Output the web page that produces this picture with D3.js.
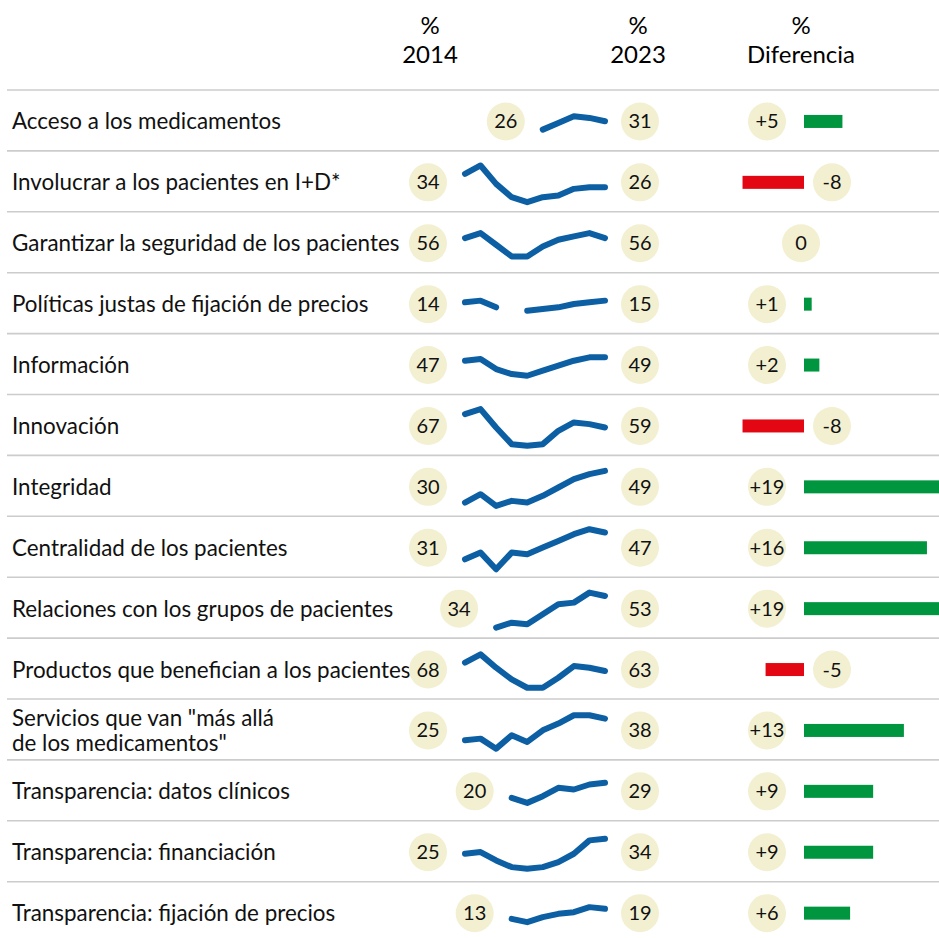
<!DOCTYPE html>
<html>
<head>
<meta charset="utf-8">
<script src="https://cdn.jsdelivr.net/npm/d3@7"></script>
<style>
  body { margin: 0; background: #fff; }
  svg { display: block; font-family: Lato, "Open Sans", sans-serif; }
</style>
</head>
<body>
<svg id="chart" width="939" height="938"></svg>
<script>
// datos
const labels = [
  "Acceso a los medicamentos",
  "Involucrar a los pacientes en I+D*",
  "Garantizar la seguridad de los pacientes",
  "Políticas justas de fijación de precios",
  "Información",
  "Innovación",
  "Integridad",
  "Centralidad de los pacientes",
  "Relaciones con los grupos de pacientes",
  "Productos que benefician a los pacientes",
  "Servicios que van \"más allá\nde los medicamentos\"",
  "Transparencia: datos clínicos",
  "Transparencia: financiación",
  "Transparencia: fijación de precios"
];
const years = [2014, 2015, 2016, 2017, 2018, 2019, 2020, 2021, 2022, 2023];
const v2014 = [26, 34, 56, 14, 47, 67, 30, 31, 34, 68, 25, 20, 25, 13];
const v2023 = [31, 26, 56, 15, 49, 59, 49, 47, 53, 63, 38, 29, 34, 19];
const diff  = [5, -8, 0, 1, 2, -8, 19, 16, 19, -5, 13, 9, 9, 6];
// serie anual (null = sin dato)
const series = [
  [null, null, null, null, null, 26, 30, 34, 33, 31],
  [34, 39, 28, 20, 17, 20, 21, 25, 26, 26],
  [56, 59, 52, 45, 45, 51, 55, 57, 59, 56],
  [14, 15, 11, null, 9, 10, 11, 13, 14, 15],
  [47, 48, 42, 39, 38, 41, 44, 47, 49, 49],
  [67, 70, 59, 49, 48, 49, 57, 62, 61, 59],
  [30, 35, 28, 31, 30, 34, 39, 44, 47, 49],
  [31, 35, 25, 35, 34, 38, 42, 46, 49, 47],
  [null, null, 34, 37, 36, 42, 48, 49, 55, 53],
  [68, 73, 65, 58, 53, 53, 59, 66, 65, 63],
  [25, 26, 20, 28, 24, 31, 35, 40, 40, 38],
  [null, null, null, 20, 17, 21, 26, 25, 28, 29],
  [25, 26, 21, 17, 16, 17, 20, 25, 33, 34],
  [null, null, null, 13, 11, 14, 16, 17, 20, 19]
];

const svg = d3.select("#chart");
const top0 = 90, rowH = 60.9;
const rowY = i => top0 + rowH * (i + 0.5) + 1;

const x = d3.scalePoint().domain(years).range([465, 605]);
const dy = d3.scaleLinear().domain([-10, 10]).range([16.7, -16.7]); // desviación respecto al centro
const bx = d3.scaleLinear().domain([0, 19]).range([804, 950]);

const cream = "#f2f0d1", blue = "#0d5fa4", green = "#00963f", red = "#e30613";

// cabecera
const head = [{t: "2014", x: 430}, {t: "2023", x: 638}, {t: "Diferencia", x: 801}];
head.forEach(h => {
  svg.append("text").attr("x", h.x).attr("y", 34).attr("text-anchor", "middle")
    .attr("font-size", 24).text("%");
  svg.append("text").attr("x", h.x).attr("y", 63).attr("text-anchor", "middle")
    .attr("font-size", 24).text(h.t);
});

// separadores
d3.range(14).forEach(i => {
  svg.append("line").attr("x1", 7).attr("x2", 939)
    .attr("y1", top0 + rowH * i).attr("y2", top0 + rowH * i)
    .attr("stroke", "#cccccc").attr("stroke-width", 1.6);
});

const line = d3.line()
  .defined(d => d.v != null)
  .x(d => x(d.year))
  .y(d => d.y);

labels.forEach((lab, i) => {
  const cy = rowY(i);
  const g = svg.append("g");

  // etiqueta
  const parts = lab.split("\n");
  const t = g.append("text").attr("x", 12).attr("font-size", 22.4).attr("fill", "#111");
  parts.forEach((p, j) => {
    t.append("tspan").attr("x", 12)
      .attr("y", cy + 8 + (j - (parts.length - 1) / 2) * 25.5).text(p);
  });

  // línea
  const vals = series[i];
  const ext = d3.extent(vals.filter(v => v != null));
  const mid = (ext[0] + ext[1]) / 2;
  const pts = years.map((yr, k) => ({year: yr, v: vals[k], y: vals[k] == null ? 0 : cy + 1.5 + dy(vals[k] - mid)}));
  g.append("path").datum(pts).attr("d", line)
    .attr("fill", "none").attr("stroke", blue).attr("stroke-width", 6)
    .attr("stroke-linecap", "round").attr("stroke-linejoin", "round");

  // círculo 2014 junto al primer dato
  const firstIdx = vals.findIndex(v => v != null);
  const c1 = x(years[firstIdx]) - 37;
  g.append("circle").attr("cx", c1).attr("cy", cy).attr("r", 19).attr("fill", cream);
  g.append("text").attr("x", c1).attr("y", cy + 7).attr("text-anchor", "middle")
    .attr("font-size", 20).attr("fill", "#111").text(v2014[i]);

  // círculo 2023
  g.append("circle").attr("cx", 640).attr("cy", cy).attr("r", 19).attr("fill", cream);
  g.append("text").attr("x", 640).attr("y", cy + 7).attr("text-anchor", "middle")
    .attr("font-size", 20).attr("fill", "#111").text(v2023[i]);

  // diferencia
  const d = diff[i];
  let cx;
  if (d > 0) {
    g.append("rect").attr("x", bx(0)).attr("y", cy - 6.5)
      .attr("width", bx(d) - bx(0)).attr("height", 13).attr("fill", green);
    cx = 767;
  } else if (d < 0) {
    g.append("rect").attr("x", bx(0) - (bx(-d) - bx(0))).attr("y", cy - 6.5)
      .attr("width", bx(-d) - bx(0)).attr("height", 13).attr("fill", red);
    cx = 832;
  } else {
    cx = 801;
  }
  g.append("circle").attr("cx", cx).attr("cy", cy).attr("r", 19).attr("fill", cream);
  g.append("text").attr("x", cx).attr("y", cy + 7).attr("text-anchor", "middle")
    .attr("font-size", 20).attr("fill", "#111")
    .text(d > 0 ? "+" + d : String(d));
});
</script>
</body>
</html>
